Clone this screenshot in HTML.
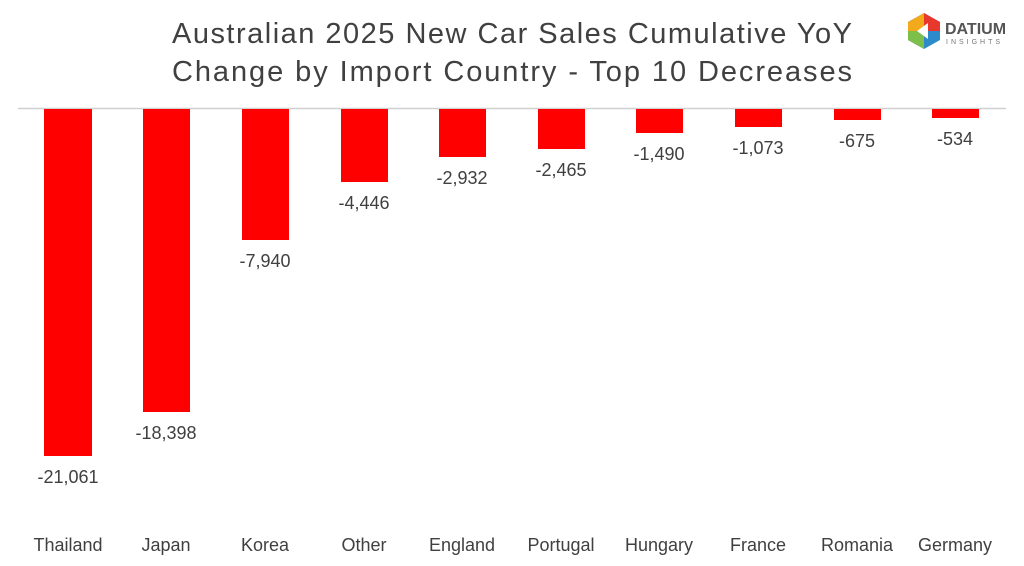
<!DOCTYPE html>
<html><head><meta charset="utf-8"><style>
html,body{margin:0;padding:0;background:#fff;}
svg{display:block;font-family:"Liberation Sans",sans-serif;}
</style></head><body>
<svg width="1024" height="566" viewBox="0 0 1024 566" xmlns="http://www.w3.org/2000/svg">
<rect width="1024" height="566" fill="#fff"/>
<text x="172" y="43" font-size="29" fill="#404040" textLength="680" lengthAdjust="spacing">Australian 2025 New Car Sales Cumulative YoY</text>
<text x="172" y="81" font-size="29" fill="#404040" textLength="680" lengthAdjust="spacing">Change by Import Country - Top 10 Decreases</text>
<g transform="translate(908,13)">
<polygon points="16,0 32,9 32,27 16,36 0,27 0,9" fill="#2e8bc9"/>
<polygon points="16,0 0,9 0,18 16,18" fill="#f2a91c"/>
<polygon points="0,18 0,27 16,36 16,18" fill="#7cc04b"/>
<polygon points="16,0 32,9 32,18 16,18" fill="#e8372c"/>
<polygon points="9,18 20,10 20,26" fill="#fff"/>
</g>
<text x="945" y="34" font-size="16" font-weight="bold" fill="#555">DATIUM</text>
<text x="946" y="44" font-size="7" fill="#777" letter-spacing="3">INSIGHTS</text>
<line x1="18" y1="108.5" x2="1006" y2="108.5" stroke="#d0d0d0" stroke-width="1.5"/>
<g fill="#ff0000">
<rect x="44" y="109" width="48" height="347"/>
<rect x="143" y="109" width="47" height="303"/>
<rect x="242" y="109" width="47" height="131"/>
<rect x="341" y="109" width="47" height="73"/>
<rect x="439" y="109" width="47" height="48"/>
<rect x="538" y="109" width="47" height="40"/>
<rect x="636" y="109" width="47" height="24"/>
<rect x="735" y="109" width="47" height="18"/>
<rect x="834" y="109" width="47" height="11"/>
<rect x="932" y="109" width="47" height="9"/>
</g>
<g font-size="18" fill="#404040" text-anchor="middle">
<text x="68" y="483">-21,061</text>
<text x="166" y="439">-18,398</text>
<text x="265" y="267">-7,940</text>
<text x="364" y="209">-4,446</text>
<text x="462" y="184">-2,932</text>
<text x="561" y="176">-2,465</text>
<text x="659" y="160">-1,490</text>
<text x="758" y="154">-1,073</text>
<text x="857" y="147">-675</text>
<text x="955" y="145">-534</text>
</g>
<g font-size="18" fill="#404040" text-anchor="middle">
<text x="68" y="551">Thailand</text>
<text x="166" y="551">Japan</text>
<text x="265" y="551">Korea</text>
<text x="364" y="551">Other</text>
<text x="462" y="551">England</text>
<text x="561" y="551">Portugal</text>
<text x="659" y="551">Hungary</text>
<text x="758" y="551">France</text>
<text x="857" y="551">Romania</text>
<text x="955" y="551">Germany</text>
</g>
</svg>
</body></html>
